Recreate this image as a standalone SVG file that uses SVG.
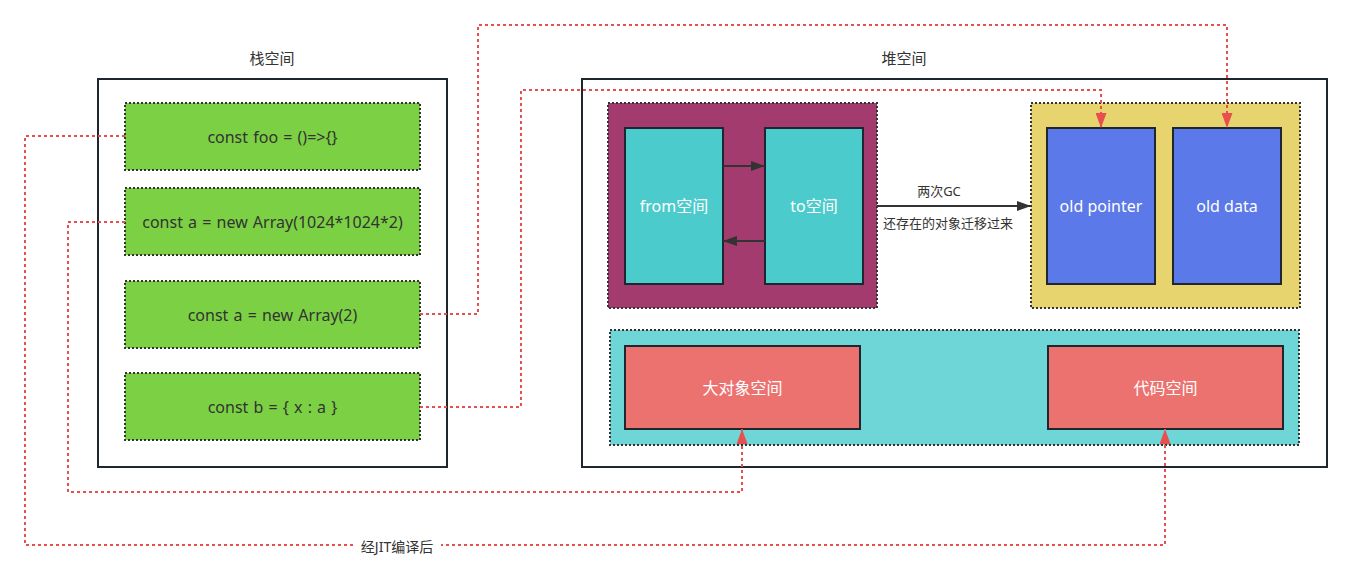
<svg xmlns="http://www.w3.org/2000/svg" width="1352" height="571" viewBox="0 0 1352 571">
<defs>
<style>
text{font-family:"Noto Sans","Noto Sans CJK SC",sans-serif;}
.container{fill:#fff;stroke:#1f262d;stroke-width:2;}
.dotbox{stroke:#333;stroke-width:2;stroke-dasharray:2 2;}
.solid{stroke:#1f262d;stroke-width:2;}
.dark{fill:#333;font-size:15px;text-anchor:middle;dominant-baseline:central;}
.code{fill:#333;font-size:16px;word-spacing:1px;text-anchor:middle;dominant-baseline:central;}
.white{fill:#fff;font-size:16px;text-anchor:middle;dominant-baseline:central;}
.small{fill:#333;font-size:13px;text-anchor:middle;dominant-baseline:central;}
.red{fill:none;stroke:#e85050;stroke-width:2;stroke-dasharray:3 3;}
.blk{fill:none;stroke:#333;stroke-width:2;}
</style>
<marker id="redArrow" viewBox="0 0 16 11" refX="15" refY="5.5" markerWidth="16" markerHeight="11" markerUnits="userSpaceOnUse" orient="auto">
<path d="M0,0 L15,5.5 L0,11 Z" fill="#e85050"/>
</marker>
<marker id="blkArrow" viewBox="0 0 14 10" refX="14" refY="5" markerWidth="14" markerHeight="10" markerUnits="userSpaceOnUse" orient="auto">
<path d="M0,0 L14,5 L0,10 Z" fill="#333"/>
</marker>
</defs>
<rect width="1352" height="571" fill="#fff"/>

<g id="stack">
<text class="dark" x="272" y="58">栈空间</text>
<rect class="container" x="98" y="79" width="349" height="388"/>
</g>
<g id="heap">
<text class="dark" x="904" y="58">堆空间</text>
<rect class="container" x="582" y="79" width="745" height="388"/>
</g>

<g id="var-foo">
<rect class="dotbox" x="125" y="103" width="295" height="67" fill="#7bd143"/>
<text class="code" x="272.5" y="136.5">const foo = ()=&gt;{}</text>
</g>
<g id="var-a-big">
<rect class="dotbox" x="125" y="188" width="295" height="67" fill="#7bd143"/>
<text class="code" x="272.5" y="221.5">const a = new Array(1024*1024*2)</text>
</g>
<g id="var-a-small">
<rect class="dotbox" x="125" y="281" width="295" height="67" fill="#7bd143"/>
<text class="code" x="272.5" y="314.5">const a = new Array(2)</text>
</g>
<g id="var-b">
<rect class="dotbox" x="125" y="373" width="295" height="67" fill="#7bd143"/>
<text class="code" x="272.5" y="406.5">const b = { x : a }</text>
</g>

<g id="young">
<rect class="dotbox" x="608" y="103" width="269" height="205" fill="#a33b6e"/>
</g>
<g id="from-space">
<rect class="solid" x="625" y="128" width="98" height="156" fill="#4bcbcc"/>
<text class="white" x="674" y="206">from空间</text>
</g>
<g id="to-space">
<rect class="solid" x="765" y="128" width="98" height="156" fill="#4bcbcc"/>
<text class="white" x="814" y="206">to空间</text>
</g>

<g id="old">
<rect class="dotbox" x="1031" y="103" width="269" height="205" fill="#e8d46e"/>
</g>
<g id="old-pointer">
<rect class="solid" x="1047" y="128" width="108" height="156" fill="#5b79e8"/>
<text class="white" x="1101" y="206">old pointer</text>
</g>
<g id="old-data">
<rect class="solid" x="1173" y="128" width="108" height="156" fill="#5b79e8"/>
<text class="white" x="1227" y="206">old data</text>
</g>

<g id="other">
<rect class="dotbox" x="610" y="330" width="689" height="115" fill="#6fd6d8"/>
</g>
<g id="large-object-space">
<rect class="solid" x="625" y="346" width="235" height="83" fill="#ec7270"/>
<text class="white" x="742.5" y="387.5">大对象空间</text>
</g>
<g id="code-space">
<rect class="solid" x="1048" y="346" width="235" height="83" fill="#ec7270"/>
<text class="white" x="1165.5" y="387.5">代码空间</text>
</g>

<g id="connectors">
<line class="blk" x1="723" y1="166" x2="765" y2="166" marker-end="url(#blkArrow)"/>
<line class="blk" x1="765" y1="241" x2="723" y2="241" marker-end="url(#blkArrow)"/>
<line class="blk" x1="877" y1="206" x2="1031" y2="206" marker-end="url(#blkArrow)"/>
<text class="small" x="939" y="191">两次GC</text>
<text class="small" x="948" y="223">还存在的对象迁移过来</text>

<path class="red" d="M125,136 H25 V545 H1165 V429" marker-end="url(#redArrow)"/>
<path class="red" d="M125,222 H68 V492 H742 V429" marker-end="url(#redArrow)"/>
<path class="red" d="M420,314 H478 V25 H1227 V128" marker-end="url(#redArrow)"/>
<path class="red" d="M420,407 H521 V90 H1101 V128" marker-end="url(#redArrow)"/>
<rect x="354" y="537" width="87" height="18" fill="#fff"/>
<text class="dark" x="397" y="546" style="font-size:14px">经JIT编译后</text>
</g>
</svg>
